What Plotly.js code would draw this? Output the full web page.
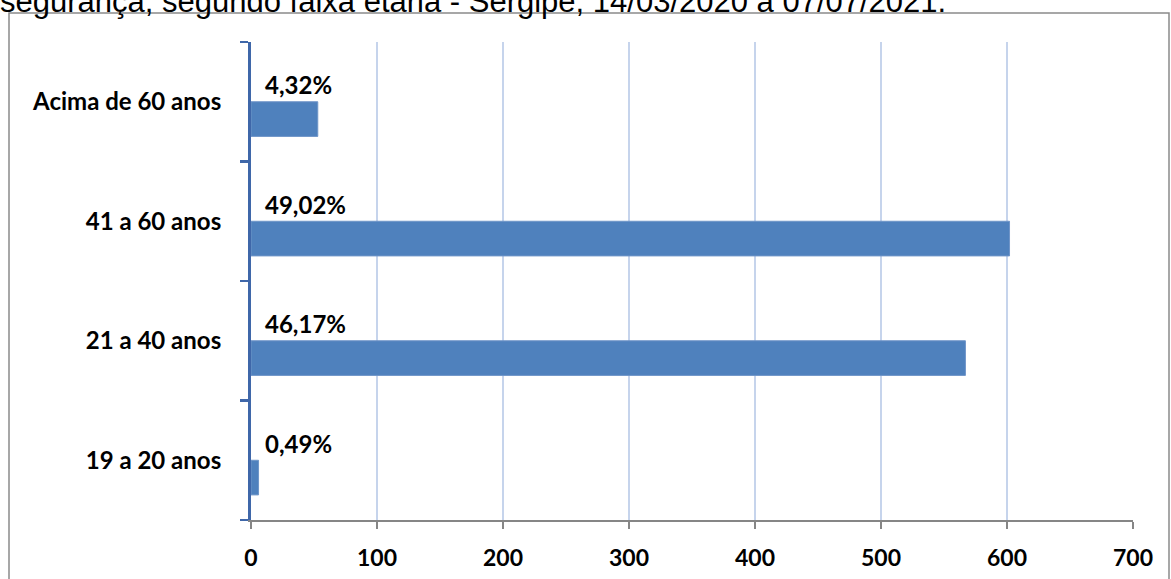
<!DOCTYPE html>
<html>
<head>
<meta charset="utf-8">
<script src="https://cdn.plot.ly/plotly-3.0.1.min.js"></script>
<style>
html,body{margin:0;padding:0;background:#fff;}
#chart{width:1171px;height:579px;}
</style>
</head>
<body>
<div id="chart"></div>
<script>
const categories = ['19 a 20 anos', '21 a 40 anos', '41 a 60 anos', 'Acima de 60 anos'];
const values = [6, 567, 602, 53];
const percentLabels = ['0,49%', '46,17%', '49,02%', '4,32%'];
const xTickValues = [0, 100, 200, 300, 400, 500, 600, 700];
const titleText = 'segurança, segundo faixa etária - Sergipe, 14/03/2020 a 07/07/2021.';

const W = 1171, H = 579;
const L = 251, R = 38, T = 42, B = 59;
const pw = W - L - R, ph = H - T - B;
const px = v => (v - L) / pw;
const py = v => (H - B - v) / ph;

const labelFont = {family: 'Lato, Calibri, sans-serif', size: 24, color: '#000', weight: 'bold'};
const xTickFont = {family: 'Lato, Calibri, sans-serif', size: 23, color: '#000', weight: 'bold'};

const trace = {
  type: 'bar',
  orientation: 'h',
  x: values,
  y: categories,
  width: 0.29,
  offset: -0.29,
  marker: {color: '#4F81BD', line: {color: '#6F95C8', width: 1}},
  hoverinfo: 'none'
};

const annotations = categories.map((c, i) => ({
  x: 0, y: c, xref: 'x', yref: 'y',
  text: '<b>' + percentLabels[i] + '</b>',
  showarrow: false,
  xanchor: 'left', yanchor: 'middle',
  xshift: 12, yshift: 17,
  font: labelFont
}));

annotations.push({
  xref: 'paper', yref: 'paper',
  x: px(-2), y: py(21),
  xanchor: 'left', yanchor: 'bottom',
  text: titleText,
  showarrow: false,
  font: {family: 'Liberation Sans, Arial, sans-serif', size: 31, color: '#000'}
});

const layout = {
  width: W, height: H,
  margin: {l: L, r: R, t: T, b: B, pad: 0},
  paper_bgcolor: '#fff',
  plot_bgcolor: '#fff',
  showlegend: false,
  xaxis: {
    range: [0, 700],
    tickvals: xTickValues,
    ticktext: xTickValues.map(String),
    showgrid: true,
    gridcolor: '#C6D4EC',
    gridwidth: 1.5,
    zeroline: false,
    showline: true,
    linecolor: '#868686',
    linewidth: 2,
    ticks: 'outside',
    ticklen: 7,
    tickwidth: 2,
    tickcolor: '#868686',
    ticklabelstandoff: 9,
    tickfont: xTickFont,
    fixedrange: true
  },
  yaxis: {
    type: 'category',
    categoryorder: 'array',
    categoryarray: categories,
    range: [-0.5, 3.5],
    showgrid: false,
    zeroline: false,
    showline: true,
    linecolor: '#3F67A9',
    linewidth: 3,
    ticks: 'outside',
    tickson: 'boundaries',
    ticklen: 8,
    tickwidth: 2.5,
    tickcolor: '#3F67A9',
    ticklabelstandoff: 22,
    tickfont: labelFont,
    fixedrange: true
  },
  annotations: annotations,
  shapes: [{
    type: 'rect', xref: 'paper', yref: 'paper',
    x0: px(9), x1: px(1169), y0: py(600), y1: py(13),
    line: {color: '#8A8A8A', width: 1.5},
    fillcolor: 'rgba(0,0,0,0)',
    layer: 'below'
  }]
};

Plotly.newPlot('chart', [trace], layout, {displayModeBar: false, staticPlot: true});
</script>
</body>
</html>
